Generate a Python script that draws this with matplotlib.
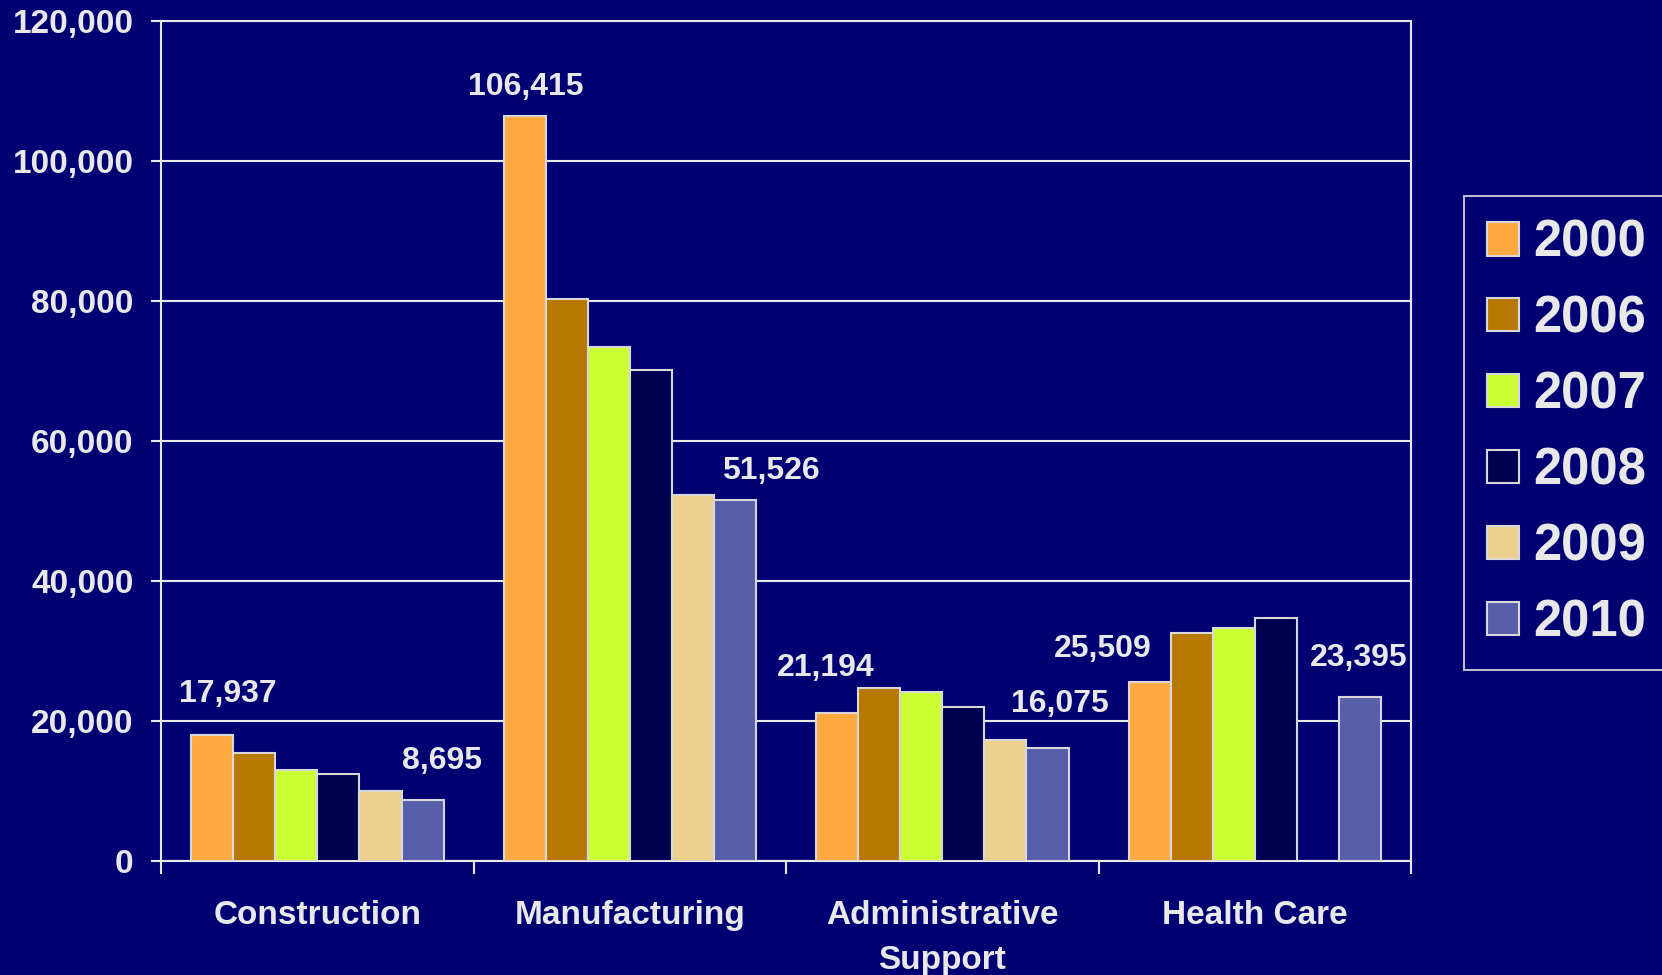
import numpy as np
import matplotlib
matplotlib.use("Agg")
import matplotlib.pyplot as plt
from matplotlib.ticker import FuncFormatter

categories = ["Construction", "Manufacturing", "Administrative\nSupport", "Health Care"]
years = ["2000", "2006", "2007", "2008", "2009", "2010"]
values = {
    "2000": [17937, 106415, 21194, 25509],
    "2006": [15450, 80300, 24700, 32600],
    "2007": [13000, 73500, 24100, 33250],
    "2008": [12430, 70150, 21970, 34700],
    "2009": [10000, 52300, 17270, None],
    "2010": [8695, 51526, 16075, 23395],
}
labelled_years = ["2000", "2010"]

colors = ["#FFA940", "#B87800", "#CCFF33", "#000050", "#EBD08E", "#575EAA"]
bg = "#000073"
fg = "#E8E8E8"

# label offsets (points) for 2000 / 2010 labels per category
label_offsets = {
    "2000": [(11, 30), (1, 21), (-8, 32), (-34, 24)],
    "2010": [(14, 28), (26, 21), (9, 32), (-1, 28)],
}

plt.rcParams['font.family'] = ['Liberation Sans', 'DejaVu Sans']
plt.rcParams['font.weight'] = 'bold'

fig = plt.figure(figsize=(16.62, 9.75), dpi=100, facecolor=bg)
ax = fig.add_axes([0.097, 0.117, 0.752, 0.861], facecolor=bg)

n = len(years)
width = 0.1346
x = np.arange(len(categories))
for j, yr in enumerate(years):
    offs = (j - (n - 1) / 2) * width
    vals = values[yr]
    xs = [x[i] + offs for i, v in enumerate(vals) if v is not None]
    hs = [v for v in vals if v is not None]
    ax.bar(xs, hs, width, color=colors[j], edgecolor="#D8D8D8", linewidth=1.5,
           label=yr, zorder=3)
    if yr in labelled_years:
        for i, v in enumerate(vals):
            dx, dy = label_offsets[yr][i]
            ax.annotate(f"{v:,}", (x[i] + offs, v), xytext=(dx, dy),
                        textcoords="offset points", ha="center", va="center",
                        color=fg, fontsize=23, fontweight="bold", zorder=4)

ax.set_xlim(-0.5, len(categories) - 0.5)
ax.set_ylim(0, 120000)
ax.set_yticks(np.arange(0, 120001, 20000))
ax.yaxis.set_major_formatter(FuncFormatter(lambda v, p: f"{int(v):,}"))
ax.grid(axis="y", color=fg, linewidth=1.5, zorder=1)

ax.set_xticks(x)
ax.set_xticklabels(categories, linespacing=1.6)
ax.set_xticks(np.arange(-0.5, len(categories)), minor=True)
ax.tick_params(axis="x", which="major", length=0, pad=28, labelsize=24, labelcolor=fg)
ax.tick_params(axis="x", which="minor", length=9, width=1.5, color=fg)
ax.tick_params(axis="y", length=7, width=1.5, color=fg, pad=13, labelsize=24, labelcolor=fg)
for lbl in ax.get_xticklabels() + ax.get_yticklabels():
    lbl.set_fontweight("bold")
for s in ax.spines.values():
    s.set_color(fg)
    s.set_linewidth(1.5)

leg = fig.legend(loc="upper left", bbox_to_anchor=(0.881, 0.799), frameon=True,
                 fontsize=36.5, handlelength=0.63, handleheight=0.63, handletextpad=0.28,
                 labelspacing=0.53, borderpad=0.45, borderaxespad=0, fancybox=False)
leg.get_frame().set_facecolor(bg)
leg.get_frame().set_edgecolor(fg)
leg.get_frame().set_linewidth(1.5)
for t in leg.get_texts():
    t.set_color(fg)
    t.set_fontweight("bold")

fig.savefig("out.png", dpi=100, facecolor=bg)
